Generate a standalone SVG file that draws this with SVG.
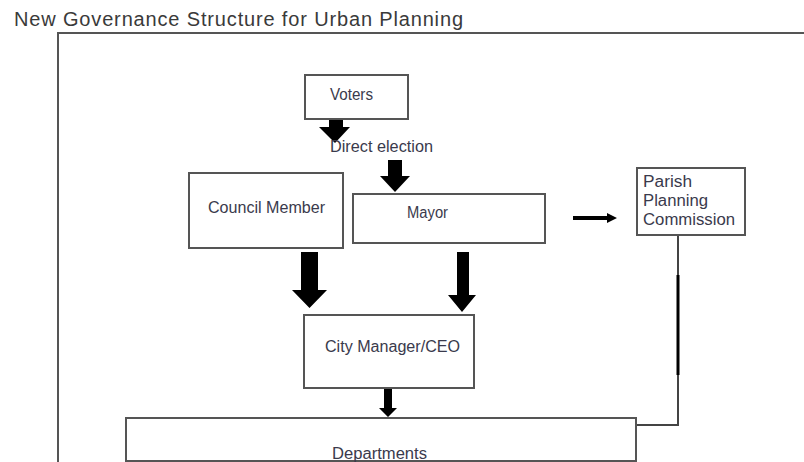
<svg xmlns="http://www.w3.org/2000/svg" width="804" height="462" viewBox="0 0 804 462">
  <style>
    .box { fill: #ffffff; stroke: #555555; stroke-width: 2; }
    .frame { fill: none; stroke: #555555; stroke-width: 2; }
    .lbl { font-family: "Liberation Sans", Arial, sans-serif; font-size: 16px; fill: #3a3a4c; }
    .title { font-family: "Liberation Sans", Arial, sans-serif; font-size: 20px; fill: #3a3a3a; }
    .blk { fill: #000000; }
    .line { fill: none; stroke: #444444; stroke-width: 2; }
  </style>

  <rect width="804" height="462" fill="#ffffff"/>

  <text class="title" x="14" y="26" textLength="449" lengthAdjust="spacing">New Governance Structure for Urban Planning</text>

  <!-- outer frame, open to the right and bottom -->
  <path class="frame" d="M58,463 L58,33 L805,33"/>

  <g id="connectors">
    <!-- Voters to direct election -->
    <polygon class="blk" points="329,109 343,109 343,127 350,127 335,143 319,127 329,127"/>
    <!-- direct election to Mayor -->
    <polygon class="blk" points="388,160 402,160 402,176 410,176 395,192 380,176 388,176"/>
    <!-- Council Member to City Manager -->
    <polygon class="blk" points="301,252 318,252 318,290 327,290 309.5,308 292,290 301,290"/>
    <!-- Mayor to City Manager -->
    <polygon class="blk" points="457,252 469,252 469,295 476,295 462,312 448,295 457,295"/>
    <!-- City Manager to Departments -->
    <polygon class="blk" points="384,370 392,370 392,408 397,408 388,417 379,408 384,408"/>
    <!-- Mayor to Parish Planning Commission -->
    <polygon class="blk" points="573,216 607,216 607,213 617,218 607,223 607,220 573,220"/>
    <!-- Parish Planning Commission to Departments -->
    <path class="line" d="M678,235 L678,425 L636,425"/>
    <rect class="blk" x="676.5" y="275" width="3" height="100"/>
  </g>

  <g id="voters">
    <rect class="box" x="305" y="75" width="103" height="44"/>
    <text class="lbl" x="330" y="100" textLength="43" lengthAdjust="spacingAndGlyphs">Voters</text>
  </g>

  <g id="direct-election">
    <text class="lbl" x="330" y="152" textLength="103" lengthAdjust="spacingAndGlyphs">Direct election</text>
  </g>

  <g id="council-member">
    <rect class="box" x="189" y="173" width="154" height="75"/>
    <text class="lbl" x="208" y="213" textLength="117" lengthAdjust="spacingAndGlyphs">Council Member</text>
  </g>

  <g id="mayor">
    <rect class="box" x="353" y="194" width="192" height="49"/>
    <text class="lbl" x="407" y="218" textLength="41" lengthAdjust="spacingAndGlyphs">Mayor</text>
  </g>

  <g id="parish-planning-commission">
    <rect class="box" x="637" y="168" width="108" height="67"/>
    <text class="lbl" x="643" y="187" textLength="49" lengthAdjust="spacingAndGlyphs">Parish</text>
    <text class="lbl" x="643" y="206" textLength="65" lengthAdjust="spacingAndGlyphs">Planning</text>
    <text class="lbl" x="643" y="225" textLength="92" lengthAdjust="spacingAndGlyphs">Commission</text>
  </g>

  <g id="city-manager">
    <rect class="box" x="304" y="315" width="170" height="73"/>
    <text class="lbl" x="325" y="352" textLength="135" lengthAdjust="spacingAndGlyphs">City Manager/CEO</text>
  </g>

  <g id="departments">
    <rect class="box" x="126" y="418" width="510" height="43"/>
    <text class="lbl" x="332" y="459" textLength="95" lengthAdjust="spacingAndGlyphs">Departments</text>
  </g>
</svg>
